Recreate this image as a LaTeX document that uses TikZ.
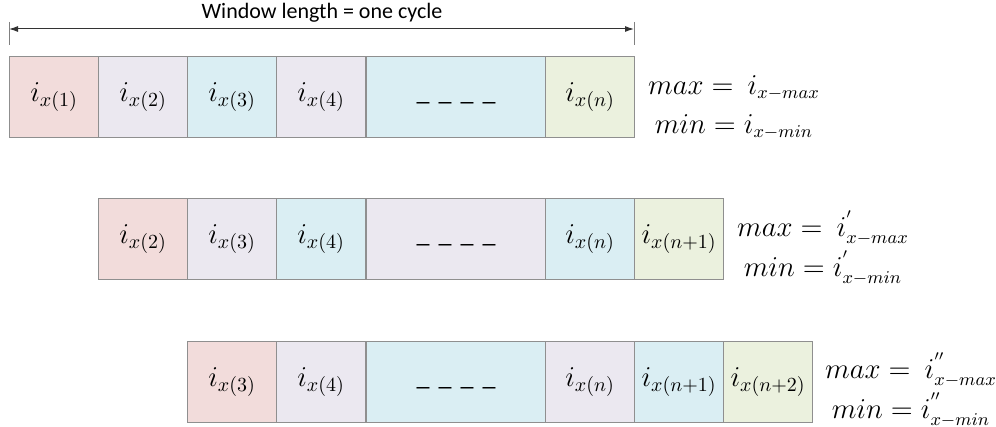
\documentclass[tikz,border=0pt]{standalone}
\usepackage{fontspec}
\setmainfont{Carlito}
\usetikzlibrary{arrows.meta}
\definecolor{cpink}{HTML}{F2DCDB}
\definecolor{clav}{HTML}{EBE8F0}
\definecolor{cblue}{HTML}{DAEEF3}
\definecolor{cgreen}{HTML}{EBF1DE}
\definecolor{cborder}{HTML}{8F8F8F}
\newcommand{\dashrow}{\raisebox{-5.5pt}{\fontsize{13}{15}\selectfont\_\hspace{4.5pt}\_\hspace{4.5pt}\_\hspace{4.5pt}\_}}
\begin{document}
\begin{tikzpicture}[x=0.5pt,y=-0.5pt,
  cell/.style={draw=cborder, line width=0.6pt, anchor=north west, inner sep=0pt,
    minimum height=40.5pt, minimum width=44.5pt, font=\fontsize{14}{16}\selectfont},
  wide/.style={cell, minimum width=89.5pt},
  eq/.style={font=\fontsize{13.5}{16}\selectfont, inner sep=0pt},
  dim/.style={line width=0.5pt, draw=black!80}]
\useasboundingbox (0,0) rectangle (996,427);
% arrow
\node[inner sep=0pt, font=\fontsize{11}{13}\selectfont] (title) at (322,13) {Window length = one cycle};
\coordinate (L) at (9,29);
\coordinate (R) at (634,29);
\coordinate (Lt) at (9,22);
\coordinate (Lb) at (9,45);
\coordinate (Rt) at (634,22);
\coordinate (Rb) at (634,45);
\draw[dim, {Latex[length=4.5pt,width=3pt]}-{Latex[length=4.5pt,width=3pt]}] (L) -- (R);
\draw[dim, draw=black!50] (Lt) -- (Lb);
\draw[dim, draw=black!50] (Rt) -- (Rb);
% row 1
\node[cell,fill=cpink] (a1) at (9,56) {$i_{x(1)}$};
\node[cell,fill=clav] (a2) at (98,56) {$i_{x(2)}$};
\node[cell,fill=cblue] (a3) at (187,56) {$i_{x(3)}$};
\node[cell,fill=clav] (a4) at (276,56) {$i_{x(4)}$};
\node[wide,fill=cblue] (a5) at (366,56) {\dashrow};
\node[cell,fill=cgreen] (a6) at (545,56) {$i_{x(n)}$};
\node[eq] (amax) at (734,88) {$max =\ i_{x-max}$};
\node[eq] (amin) at (734,127) {$min = i_{x-min}$};
% row 2
\node[cell,fill=cpink] (b1) at (98,198) {$i_{x(2)}$};
\node[cell,fill=clav] (b2) at (187,198) {$i_{x(3)}$};
\node[cell,fill=cblue] (b3) at (276,198) {$i_{x(4)}$};
\node[wide,fill=clav] (b4) at (366,198) {\dashrow};
\node[cell,fill=cblue] (b5) at (545,198) {$i_{x(n)}$};
\node[cell,fill=cgreen] (b6) at (634,198) {$i_{x(n+1)}$};
\node[eq] (bmax) at (823,228) {$max =\ i^{'}_{x-max}$};
\node[eq] (bmin) at (823,268) {$min = i^{'}_{x-min}$};
% row 3
\node[cell,fill=cpink] (c1) at (187,341) {$i_{x(3)}$};
\node[cell,fill=clav] (c2) at (276,341) {$i_{x(4)}$};
\node[wide,fill=cblue] (c3) at (366,341) {\dashrow};
\node[cell,fill=clav] (c4) at (545,341) {$i_{x(n)}$};
\node[cell,fill=cblue] (c5) at (634,341) {$i_{x(n+1)}$};
\node[cell,fill=cgreen] (c6) at (723,341) {$i_{x(n+2)}$};
\node[eq] (cmax) at (911,370) {$max =\ i^{''}_{x-max}$};
\node[eq] (cmin) at (911,410) {$min = i^{''}_{x-min}$};
\end{tikzpicture}
\end{document}
